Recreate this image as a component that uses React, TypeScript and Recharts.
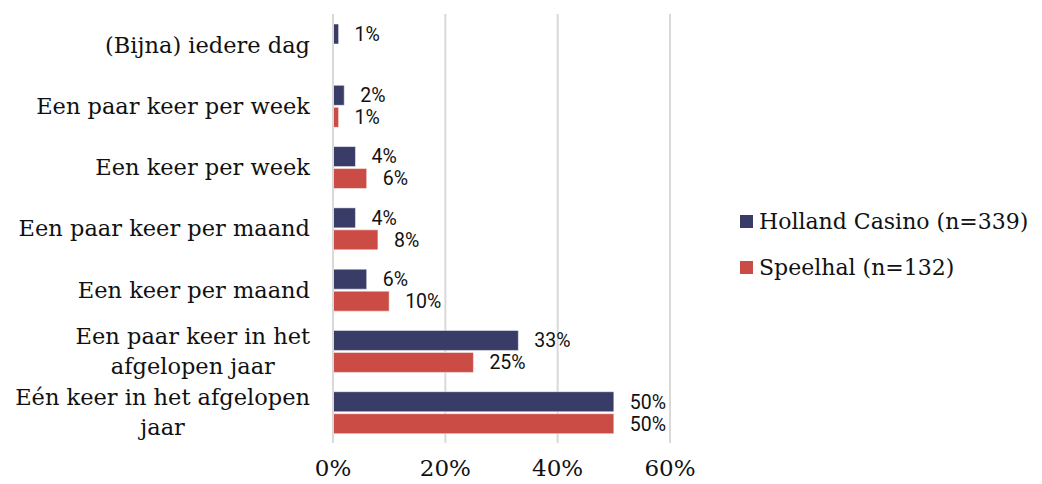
import { BarChart, Bar, XAxis, YAxis, CartesianGrid, LabelList, Legend } from 'recharts'

const categories = [
  '(Bijna) iedere dag',
  'Een paar keer per week',
  'Een keer per week',
  'Een paar keer per maand',
  'Een keer per maand',
  'Een paar keer in het|afgelopen jaar',
  'Eén keer in het afgelopen|jaar',
]
const hollandCasino = [1, 2, 4, 4, 6, 33, 50]
const speelhal = [0, 1, 6, 8, 10, 25, 50]
const xTicks = [0, 20, 40, 60]
const seriesNames = ['Holland Casino (n=339)', 'Speelhal (n=132)']

const BLUE = '#393C66'
const RED = '#CB4C44'
const SERIF = '"DejaVu Serif", serif'
const CAT_SIZE = 22.5
const INK = '#111'

const data = categories.map((name, i) => ({
  name,
  hc: hollandCasino[i],
  sp: speelhal[i],
}))

let ctx: CanvasRenderingContext2D | null = null
function textWidth(s: string) {
  if (!ctx) ctx = document.createElement('canvas').getContext('2d')
  if (!ctx) return s.length * CAT_SIZE * 0.55
  ctx.font = `${CAT_SIZE}px "DejaVu Serif"`
  return ctx.measureText(s).width
}

function CategoryTick(props: { x?: number; y?: number; payload?: { value: string } }) {
  const { x = 0, y = 0, payload } = props
  const lines = (payload?.value ?? '').split('|')
  const tx = x - 15
  if (lines.length === 1) {
    return (
      <text x={tx} y={y} dy="0.35em" textAnchor="end" fontFamily={SERIF} fontSize={CAT_SIZE} fill={INK}>
        {lines[0]}
      </text>
    )
  }
  // second line is centred under the first, block stays right aligned
  const w = textWidth(lines[0])
  return (
    <g>
      <text x={tx} y={y - 15} dy="0.35em" textAnchor="end" fontFamily={SERIF} fontSize={CAT_SIZE} fill={INK}>
        {lines[0]}
      </text>
      <text x={tx - w / 2} y={y + 15} dy="0.35em" textAnchor="middle" fontFamily={SERIF} fontSize={CAT_SIZE} fill={INK}>
        {lines[1]}
      </text>
    </g>
  )
}

function LegendContent() {
  const colors = [BLUE, RED]
  return (
    <div style={{ fontFamily: SERIF, fontSize: 22, color: INK }}>
      {seriesNames.map((n, i) => (
        <div key={n} style={{ display: 'flex', alignItems: 'center', height: 46 }}>
          <span style={{ width: 13, height: 13, background: colors[i], marginRight: 6, display: 'inline-block' }} />
          {n}
        </div>
      ))}
    </div>
  )
}

const pct = (v: unknown) => (v ? `${v}%` : '')

export default function App() {
  return (
    <div style={{ position: 'absolute', left: 0, top: 0, background: '#fff' }}>
      <BarChart
        width={1042}
        height={484}
        data={data}
        layout="vertical"
        margin={{ top: 14, right: 372, bottom: 0, left: 0 }}
        barSize={20}
        barGap={2}
      >
        <CartesianGrid horizontal={false} stroke="#d9d9d9" strokeWidth={2} />
        <XAxis
          type="number"
          domain={[0, 60]}
          ticks={xTicks}
          tickFormatter={(v) => `${v}%`}
          axisLine={false}
          tickLine={false}
          tickMargin={11}
          height={41}
          tick={{ fontFamily: SERIF, fontSize: 23, fill: INK }}
        />
        <YAxis
          type="category"
          dataKey="name"
          width={333}
          axisLine={{ stroke: '#d9d9d9', strokeWidth: 2 }}
          tickLine={false}
          tick={<CategoryTick />}
          interval={0}
        />
        <Legend
          layout="horizontal"
          verticalAlign="middle"
          align="center"
          content={<LegendContent />}
          wrapperStyle={{ position: 'absolute', left: 740, top: 198, width: 302 }}
        />
        <Bar dataKey="hc" name={seriesNames[0]} fill={BLUE} stroke="#fff" strokeWidth={0.5} isAnimationActive={false}>
          <LabelList dataKey="hc" position="right" offset={16} formatter={pct} fontFamily="Roboto" fontSize={19.5} fill={INK} />
        </Bar>
        <Bar dataKey="sp" name={seriesNames[1]} fill={RED} stroke="#fff" strokeWidth={0.5} isAnimationActive={false}>
          <LabelList dataKey="sp" position="right" offset={16} formatter={pct} fontFamily="Roboto" fontSize={19.5} fill={INK} />
        </Bar>
      </BarChart>
    </div>
  )
}
